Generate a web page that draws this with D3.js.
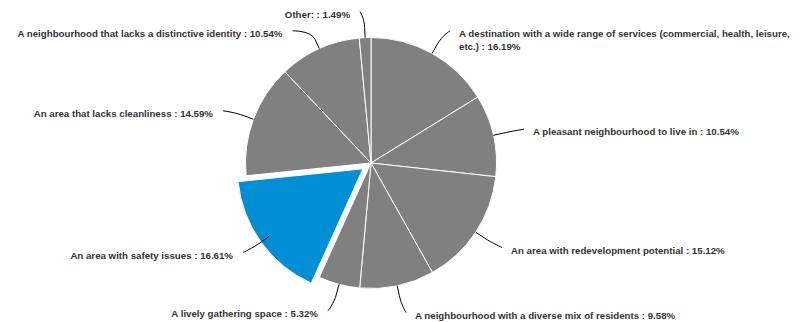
<!DOCTYPE html>
<html>
<head>
<meta charset="utf-8">
<script src="https://cdn.jsdelivr.net/npm/d3@7"></script>
<style>
  html, body { margin: 0; padding: 0; background: #fff; }
  svg { display: block; }
  .lbl { font-family: "Liberation Sans", Arial, sans-serif; font-weight: bold; font-size: 9.7px; fill: #333; }
</style>
</head>
<body>
<svg id="chart" width="806" height="322"></svg>
<script>
// Perception of the neighbourhood (share of answers, %)
const categories = [
  "A destination with a wide range of services (commercial, health, leisure, etc.)",
  "A pleasant neighbourhood to live in",
  "An area with redevelopment potential",
  "A neighbourhood with a diverse mix of residents",
  "A lively gathering space",
  "An area with safety issues",
  "An area that lacks cleanliness",
  "A neighbourhood that lacks a distinctive identity",
  "Other:"
];
const values = [16.19, 10.54, 15.12, 9.58, 5.32, 16.61, 14.59, 10.54, 1.49];
const highlighted = [false, false, false, false, false, true, false, false, false];

// Label placement: text anchor x and text centre y for each slice label
const labelX = [459, 533, 511, 415, 318, 233, 213, 282.5, 350];
const labelY = [33.3, 131.7, 250, 315, 313.3, 255, 113.3, 33.3, 14];

const width = 806, height = 322;
const cx = 371, cy = 163, radius = 125.5;
const slicedOffset = 10;
const baseColor = "#808080", highlightColor = "#008fd5";

const svg = d3.select("#chart");
const g = svg.append("g").attr("transform", `translate(${cx},${cy})`);

const pie = d3.pie().sort(null).value(d => d)
  .startAngle(0).endAngle(2 * Math.PI);
const arcs = pie(values);
const arc = d3.arc().innerRadius(0).outerRadius(radius);

const polar = (a, r) => [Math.sin(a) * r, -Math.cos(a) * r];

// slices
g.selectAll("path.slice")
  .data(arcs)
  .join("path")
  .attr("class", "slice")
  .attr("d", arc)
  .attr("fill", (d, i) => highlighted[i] ? highlightColor : baseColor)
  .attr("stroke", "#fff")
  .attr("stroke-width", 1)
  .attr("stroke-linejoin", "round")
  .attr("transform", (d, i) => {
    if (!highlighted[i]) return null;
    const m = (d.startAngle + d.endAngle) / 2;
    const [ox, oy] = polar(m, slicedOffset);
    return `translate(${ox},${oy})`;
  });

// connectors and labels
const labels = svg.append("g");
arcs.forEach((d, i) => {
  const m = (d.startAngle + d.endAngle) / 2;
  const right = Math.sin(m) > 0 && i < 4;
  const [tx0, ty0] = polar(m, radius);
  const [bx0, by0] = polar(m, radius + 10);
  const T = [cx + tx0, cy + ty0];
  const B = [cx + bx0, cy + by0];
  const sy = labelY[i] - 2.5;
  const sx = right ? labelX[i] - 9 : labelX[i] + 10;
  const path = `M${sx},${sy}C${sx},${sy} ${2 * B[0] - T[0]},${2 * B[1] - T[1]} ${B[0]},${B[1]}L${T[0]},${T[1]}`;
  labels.append("path")
    .attr("d", path)
    .attr("fill", "none")
    .attr("stroke", "#000")
    .attr("stroke-width", 1);

  const text = labels.append("text")
    .attr("class", "lbl")
    .attr("text-anchor", right ? "start" : "end");
  const full = `${categories[i]} : ${values[i].toFixed(2)}%`;
  // wrap long labels to the space left of the page edge
  const maxW = right ? width - labelX[i] - 4 : labelX[i] - 4;
  const words = full.split(" ");
  const lines = [];
  let line = [];
  const probe = text.append("tspan");
  words.forEach(w => {
    const test = line.concat(w).join(" ");
    probe.text(test);
    if (probe.node().getComputedTextLength() > maxW && line.length) {
      lines.push(line.join(" "));
      line = [w];
    } else {
      line.push(w);
    }
  });
  lines.push(line.join(" "));
  probe.remove();
  const lh = 12.7;
  const top = labelY[i] + 3.6;
  lines.forEach((ln, k) => {
    text.append("tspan")
      .attr("x", labelX[i])
      .attr("y", top + k * lh)
      .text(ln);
  });
});
</script>
</body>
</html>
